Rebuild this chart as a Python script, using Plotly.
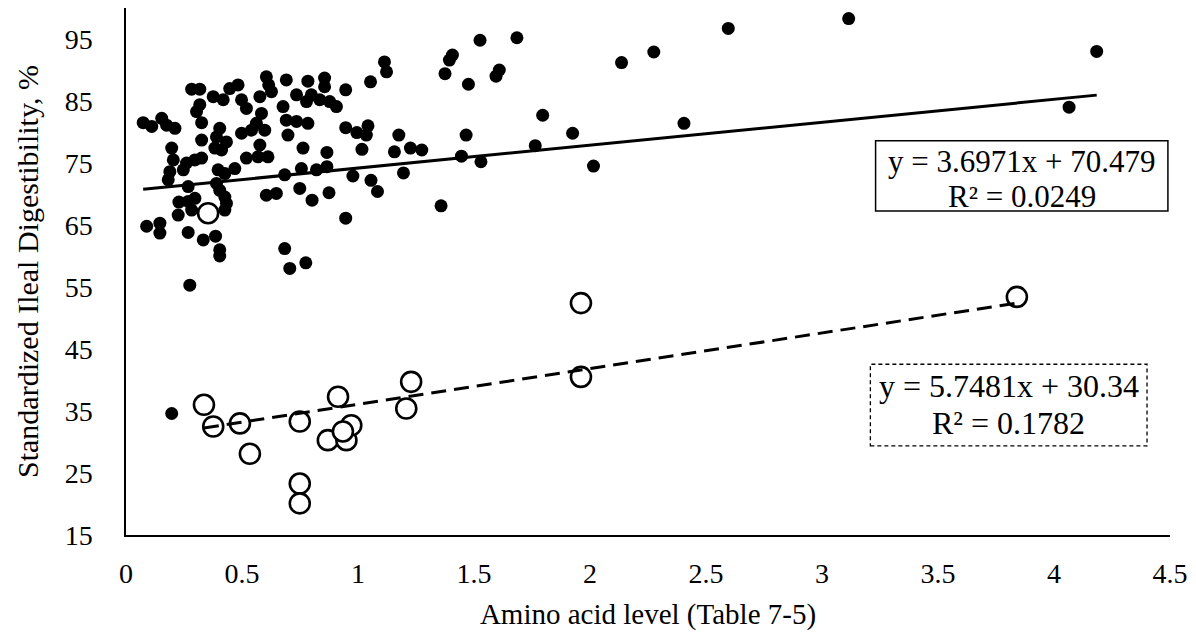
import numpy as np
import plotly.graph_objects as go

# ---- data ----
filled_x = [0.283, 0.318, 0.447, 0.483, 0.376, 0.419, 0.318, 0.304, 0.498, 0.519,
            0.577, 0.627, 0.615, 0.605, 0.677, 0.691, 0.735, 0.778, 0.799, 0.784,
            0.074, 0.111, 0.154, 0.175, 0.211, 0.326, 0.404, 0.390, 0.433, 0.383,
            0.412, 0.498, 0.541, 0.584, 0.562, 0.598, 0.326, 0.691, 0.735, 0.784,
            0.698, 0.197, 0.204, 0.261, 0.297, 0.326, 0.247, 0.189, 0.182, 0.577,
            0.519, 0.569, 0.612, 0.763, 0.397, 0.426, 0.469, 0.684, 0.756, 0.821,
            0.268, 0.390, 0.404, 0.749, 0.802, 0.605, 0.648, 0.228, 0.297, 0.426,
            0.433, 0.426, 0.268, 0.283, 0.225, 0.089, 0.146, 0.146, 0.268, 0.333,
            0.386, 0.404, 0.404, 0.684, 0.706, 0.775, 0.275, 1.114, 1.123, 1.394,
            1.407, 1.375, 1.476, 0.856, 0.856, 0.835, 0.878, 0.907, 0.947, 1.054,
            0.947, 0.995, 1.043, 1.036, 1.176, 1.466, 0.866, 1.017, 1.157, 1.226,
            1.275, 1.446, 1.530, 0.866, 0.978, 1.196, 1.056, 1.084, 0.875, 0.947,
            1.358, 1.526, 1.685, 1.595, 1.609, 2.136, 2.275, 2.596, 1.796, 1.925,
            1.764, 2.405, 2.015, 3.115, 4.184, 4.065, 0.197]
filled_y = [86.9, 86.9, 87.0, 87.6, 85.7, 85.2, 84.4, 83.3, 85.2, 83.8,
            85.7, 86.5, 87.6, 88.9, 84.1, 88.4, 86.0, 84.9, 86.0, 88.2,
            81.5, 80.9, 82.2, 81.1, 80.6, 81.5, 80.6, 79.2, 78.4, 77.4,
            77.1, 79.8, 80.3, 83.0, 81.4, 80.3, 78.7, 81.9, 81.7, 81.4,
            79.5, 77.4, 75.5, 75.0, 75.5, 75.8, 73.9, 73.6, 72.3, 77.9,
            75.8, 76.0, 76.0, 77.4, 73.9, 73.3, 74.1, 73.1, 74.1, 73.9,
            71.2, 71.7, 70.6, 70.9, 69.0, 69.8, 70.1, 68.7, 69.3, 69.5,
            68.5, 67.4, 68.8, 67.4, 66.6, 64.8, 65.3, 63.7, 63.8, 62.6,
            63.2, 61.0, 60.0, 61.2, 58.0, 58.9, 55.3, 91.3, 89.7, 91.6,
            92.4, 89.4, 87.7, 88.7, 87.3, 85.2, 84.9, 84.1, 86.8, 88.1,
            80.7, 79.9, 81.0, 79.5, 79.5, 79.5, 76.7, 77.2, 76.8, 77.4,
            77.1, 76.1, 75.2, 74.4, 72.9, 73.4, 72.2, 70.4, 70.2, 66.1,
            68.1, 94.8, 95.2, 89.0, 90.0, 91.2, 92.9, 96.7, 82.7, 79.8,
            77.8, 81.4, 74.5, 98.3, 93.0, 84.0, 34.6]

open_x = [0.336, 0.376, 0.491, 0.534, 0.749, 0.914, 0.749, 0.749, 0.870, 0.950,
          0.971, 0.935, 1.208, 1.229, 1.961, 1.961, 3.840, 0.354]
open_y = [36.0, 32.5, 33.0, 28.1, 33.3, 37.3, 23.3, 20.1, 30.3, 30.3,
          32.7, 31.7, 35.4, 39.7, 40.5, 52.4, 53.4, 66.9]

filled_fit = (3.6971, 70.479)   # slope, intercept
filled_fit_range = (0.074, 4.184)
open_fit = (5.7481, 30.34)
open_fit_range = (0.336, 3.840)
filled_label = ["y = 3.6971x + 70.479", "R² = 0.0249"]
open_label = ["y = 5.7481x + 30.34", "R² = 0.1782"]

x_ticks = [0, 0.5, 1, 1.5, 2, 2.5, 3, 3.5, 4, 4.5]
x_ticktext = ["0", "0.5", "1", "1.5", "2", "2.5", "3", "3.5", "4", "4.5"]
y_ticks = [15, 25, 35, 45, 55, 65, 75, 85, 95]

FONT = "Liberation Serif, Times New Roman, serif"

fig = go.Figure()

fig.add_trace(go.Scatter(
    x=filled_x, y=filled_y, mode="markers",
    marker=dict(size=13, color="black", line=dict(width=0)),
    showlegend=False, hoverinfo="x+y"))

fig.add_trace(go.Scatter(
    x=open_x, y=open_y, mode="markers",
    marker=dict(size=20, color="white", line=dict(width=2.6, color="black")),
    showlegend=False, hoverinfo="x+y"))

fx = np.array(filled_fit_range)
fig.add_trace(go.Scatter(
    x=fx, y=filled_fit[0] * fx + filled_fit[1], mode="lines",
    line=dict(color="black", width=3), showlegend=False, hoverinfo="skip"))

ox = np.array(open_fit_range)
fig.add_trace(go.Scatter(
    x=ox, y=open_fit[0] * ox + open_fit[1], mode="lines",
    line=dict(color="black", width=3, dash="15px,8px"), showlegend=False,
    hoverinfo="skip"))

# equation boxes
fig.add_shape(type="rect", xref="paper", yref="paper",
              x0=0.718, x1=0.998, y0=0.615, y1=0.748,
              line=dict(color="black", width=1.5), fillcolor="white", layer="above")
fig.add_shape(type="rect", xref="paper", yref="paper",
              x0=0.713, x1=0.978, y0=0.169, y1=0.324,
              line=dict(color="black", width=1.3, dash="4px,3px"), fillcolor="white",
              layer="above")

for txt, yy in zip(filled_label, [0.708, 0.643]):
    fig.add_annotation(xref="paper", yref="paper", x=0.858, y=yy,
                       xanchor="center", yanchor="middle", text=txt, showarrow=False,
                       borderpad=0,
                       font=dict(family=FONT, size=31, color="black"))
for txt, yy in zip(open_label, [0.283, 0.213]):
    fig.add_annotation(xref="paper", yref="paper", x=0.8455, y=yy,
                       xanchor="center", yanchor="middle", text=txt, showarrow=False,
                       borderpad=0,
                       font=dict(family=FONT, size=32, color="black"))

fig.update_layout(
    width=1196, height=637,
    margin=dict(l=126, r=24, t=8, b=102),
    paper_bgcolor="white", plot_bgcolor="white",
    font=dict(family=FONT, size=28, color="black"),
    xaxis=dict(range=[0, 4.5], tickvals=x_ticks, ticktext=x_ticktext,
               showgrid=False, zeroline=False, showline=True,
               linecolor="black", linewidth=1.5, ticks="",
               ticklabelstandoff=13, tickfont=dict(size=28),
               title=dict(text="Amino acid level (Table 7-5)", standoff=15,
                          font=dict(family=FONT, size=29))),
    yaxis=dict(range=[15, 100], tickvals=y_ticks,
               showgrid=False, zeroline=False, showline=True,
               linecolor="black", linewidth=1.5, ticks="",
               ticklabelstandoff=26, tickfont=dict(size=28),
               title=dict(text="Standardized Ileal Digestibility, %", standoff=17,
                          font=dict(family=FONT, size=30))),
)

fig.write_html("out.html")
